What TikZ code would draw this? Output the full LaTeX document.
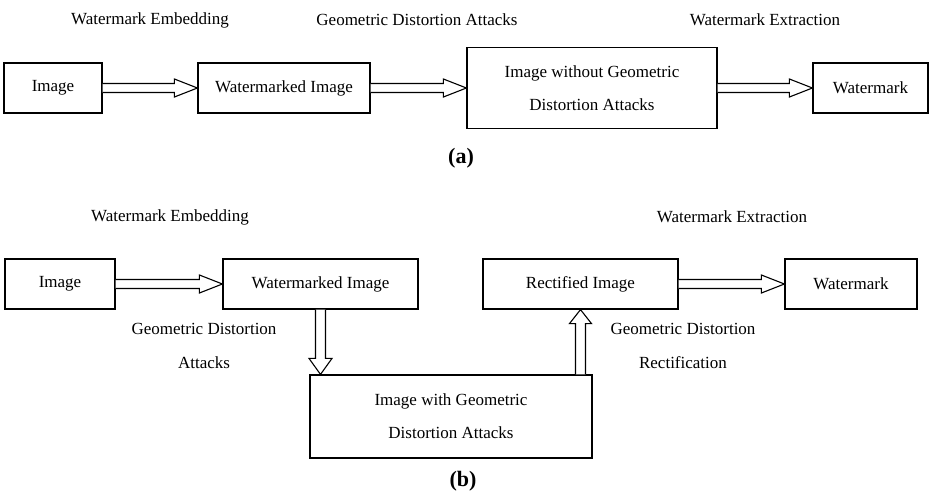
\documentclass[tikz,border=0pt]{standalone}
\usepackage{fontspec}
\setmainfont{Liberation Serif}
\usetikzlibrary{calc}
\tikzset{
  box/.style={draw, line width=1.2pt, inner sep=0pt, minimum height=50pt, align=center,
              font=\fontsize{17}{33}\selectfont},
  lbl/.style={inner sep=0pt, align=center, font=\fontsize{17}{34}\selectfont},
  captxt/.style={inner sep=0pt, font=\fontsize{22}{24}\selectfont\bfseries},
  fat/.style={draw, line width=1.1pt, fill=white, line join=miter},
}
\newcommand\harrow[2]{%
  \draw[fat] let \p1=(#1.east), \p2=(#2.west) in
    (\x1,\y1+4.5pt) -- (\x2-23pt,\y1+4.5pt) -- (\x2-23pt,\y1+9pt) -- (\x2,\y1)
    -- (\x2-23pt,\y1-9pt) -- (\x2-23pt,\y1-4.5pt) -- (\x1,\y1-4.5pt);}
\begin{document}
\begin{tikzpicture}[x=1pt,y=-1pt]
\useasboundingbox (0,0) rectangle (929,496);
% ---------- (a) ----------
\node[lbl] (la1) at (150,20) {Watermark Embedding};
\node[lbl] (la2) at (417,20) {Geometric Distortion Attacks};
\node[lbl] (la3) at (765,20) {Watermark Extraction};
\node[box, minimum width=98pt] (img1) at (53,88) {Image};
\node[box, minimum width=172pt] (wm1) at (284,88) {Watermarked Image};
\node[box, minimum width=250pt, minimum height=81pt] (wo) at (592,88) {Image without Geometric\\Distortion Attacks};
\node[box, minimum width=115pt] (wmk1) at (870.5,88) {Watermark};
\harrow{img1}{wm1}
\harrow{wm1}{wo}
\harrow{wo}{wmk1}
\node[captxt] (capa) at (461,158) {(a)};
% ---------- (b) ----------
\node[lbl] (lb1) at (170,217) {Watermark Embedding};
\node[lbl] (lb2) at (732,217) {Watermark Extraction};
\node[box, minimum width=110pt] (img2) at (60,284) {Image};
\node[box, minimum width=195pt] (wm2) at (320.5,284) {Watermarked Image};
\node[box, minimum width=195pt] (rect) at (580.5,284) {Rectified Image};
\node[box, minimum width=132pt] (wmk2) at (851,284) {Watermark};
\node[box, minimum width=282pt, minimum height=83pt] (att) at (451,416.5) {Image with Geometric\\Distortion Attacks};
\harrow{img2}{wm2}
\harrow{rect}{wmk2}
\draw[fat] let \p1=(wm2.south), \p2=(att.north) in
  (\x1-5pt,\y1) -- (\x1-5pt,\y2+16pt) -- (\x1-11.5pt,\y2+16pt) -- (\x1,\y2)
  -- (\x1+11.5pt,\y2+16pt) -- (\x1+5pt,\y2+16pt) -- (\x1+5pt,\y1);
\draw[fat] let \p1=(rect.south), \p2=(att.north) in
  (\x1-5pt,\y2) -- (\x1-5pt,\y1-14pt) -- (\x1-11pt,\y1-14pt) -- (\x1,\y1)
  -- (\x1+11pt,\y1-14pt) -- (\x1+5pt,\y1-14pt) -- (\x1+5pt,\y2);
\node[lbl] (lg1) at (204,346) {Geometric Distortion\\Attacks};
\node[lbl] (lg2) at (683,346) {Geometric Distortion\\Rectification};
\node[captxt] (capb) at (463,481) {(b)};
\end{tikzpicture}
\end{document}
